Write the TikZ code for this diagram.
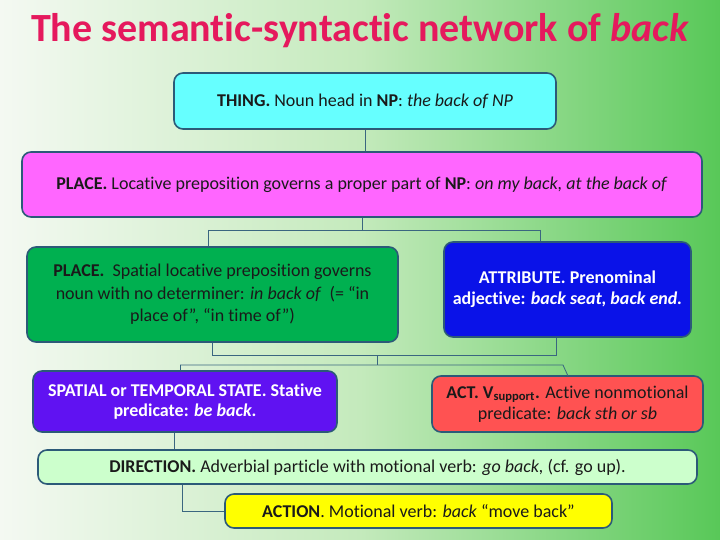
\documentclass[tikz,border=0pt]{standalone}
\usepackage{fontspec}
\setmainfont{Carlito}[Ligatures=NoCommon]
\definecolor{bgL}{HTML}{F4F9F2}
\definecolor{bgM}{HTML}{C4EABC}
\definecolor{bgR}{HTML}{58C858}
\definecolor{titlecol}{HTML}{E5195D}
\definecolor{edgecol}{HTML}{2C5A78}
\definecolor{linecol}{HTML}{3A6680}
\definecolor{cCyan}{HTML}{66FFFF}
\definecolor{cMag}{HTML}{FF66FF}
\definecolor{cGreen}{HTML}{00B050}
\definecolor{cBlue}{HTML}{0A12E8}
\definecolor{cPurple}{HTML}{6012F2}
\definecolor{cRed}{HTML}{FF5252}
\definecolor{cLight}{HTML}{CCFFCC}
\definecolor{cYellow}{HTML}{FFFF00}
\definecolor{txt}{HTML}{1A1A1A}
\tikzset{
  box/.style={draw=edgecol, line width=1.6pt, rounded corners=9pt, align=center,
    inner sep=0pt, font=\fontsize{18}{22}\selectfont, text=txt},
  conn/.style={draw=linecol, line width=0.8pt},
}
\begin{document}
\begin{tikzpicture}[x=1pt,y=-1pt]
\useasboundingbox (0,0) rectangle (720,540);
\shade[left color=bgL, right color=bgR, middle color=bgM] (0,0) rectangle (720,540);
\node[font=\fontsize{40}{44}\selectfont\bfseries, text=titlecol] (title) at (360,31) {The semantic-syntactic network of \textit{back}};

\node[box, fill=cCyan, minimum width=382pt, minimum height=56pt] (thing) at (365,101)
  {\textbf{THING.} Noun head in \textbf{NP}: \textit{the back of NP}};
\node[box, fill=cMag, minimum width=680pt, minimum height=65pt] (place) at (362,184.5)
  {\textbf{PLACE.} Locative preposition governs a proper part of \textbf{NP}: \textit{on my back, at the back of}};
\node[box, fill=cGreen, minimum width=371pt, minimum height=95pt, font=\fontsize{18}{22.5}\selectfont] (green) at (212.5,294.5)
  {\textbf{PLACE.}\ \ Spatial locative preposition governs\\ noun with no determiner: \textit{in back of}\ \ (= ``in\\ place of'', ``in time of'')};
\node[box, fill=cBlue, minimum width=247pt, minimum height=95pt, text=white, font=\fontsize{18}{21}\selectfont\bfseries] (attr) at (567.5,289.5)
  {ATTRIBUTE. Prenominal\\ adjective: \textit{back seat, back end.}};
\node[box, fill=cPurple, minimum width=304pt, minimum height=61pt, text=white, font=\fontsize{18}{20.5}\selectfont\bfseries] (state) at (185,401.5)
  {SPATIAL or TEMPORAL STATE. Stative\\ predicate: \textit{be back}.};
\node[box, fill=cRed, minimum width=271pt, minimum height=56pt, font=\fontsize{18}{21}\selectfont] (act) at (567.5,404)
  {\textbf{ACT. V\textsubscript{support}.} Active nonmotional\\ predicate: \textit{back sth or sb}};
\node[box, fill=cLight, minimum width=659pt, minimum height=34pt] (dir) at (367.5,467)
  {\textbf{DIRECTION.} Adverbial particle with motional verb: \textit{go back,} (cf. go up).};
\node[box, fill=cYellow, minimum width=387pt, minimum height=34pt] (action) at (418.5,511)
  {\textbf{ACTION}. Motional verb: \textit{back} ``move back''};

% connectors
\coordinate (j1) at (362,230);
\coordinate (j1l) at (208,230);
\coordinate (j1r) at (540,230);
\coordinate (j2l) at (212,355);
\coordinate (j2r) at (556,355);
\coordinate (j2m) at (377,355);
\coordinate (j3m) at (377,365);
\coordinate (j3l) at (180,365);
\coordinate (j3r) at (563,365);
\coordinate (redtop) at (568,376);
\coordinate (j5) at (174,440);
\coordinate (j4) at (182,511);

\draw[conn] (thing.south) -- (thing.south |- place.north);
\draw[conn] (place.south -| j1) -- (j1);
\draw[conn] (j1l) -- (j1r);
\draw[conn] (j1l) -- (j1l |- green.north);
\draw[conn] (j1r) -- (j1r |- attr.north);
\draw[conn] (green.south -| j2l) -- (j2l) -- (j2r) -- (j2r |- attr.south);
\draw[conn] (j2m) -- (j3m);
\draw[conn] (j3l) -- (j3r) -- (redtop);
\draw[conn] (j3l) -- (j3l |- state.north);
\draw[conn] (state.south -| j5) -- (j5 |- dir.north);
\draw[conn] (dir.south -| j4) -- (j4) -- (action.west |- j4);
\end{tikzpicture}
\end{document}
